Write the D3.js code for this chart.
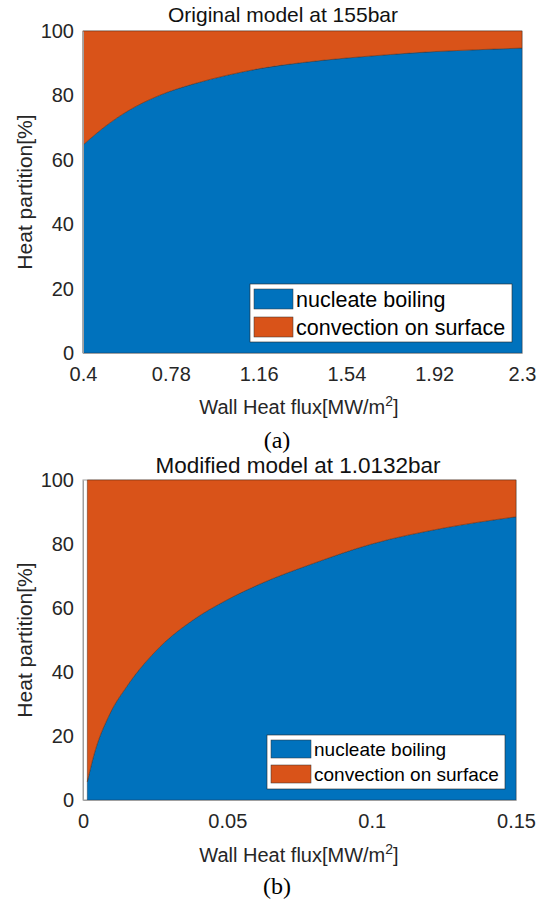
<!DOCTYPE html>
<html><head><meta charset="utf-8">
<script src="https://cdn.jsdelivr.net/npm/d3@7"></script>
<style>body{margin:0;background:#fff}svg{display:block}</style>
</head><body>
<script>
// Panel (a): Original model at 155bar
const fluxA = [0.4, 0.5, 0.59, 0.73, 0.88, 1.02, 1.17, 1.35, 1.54, 1.73, 1.92, 2.11, 2.3];
const boilA = [64.6, 70.6, 75.0, 80.0, 83.6, 86.2, 88.4, 90.2, 91.6, 92.7, 93.6, 94.2, 94.7];
const xTicksA = [0.4, 0.78, 1.16, 1.54, 1.92, 2.3];
// Panel (b): Modified model at 1.0132bar
const fluxB = [0.0015, 0.0036, 0.0094, 0.0151, 0.0267, 0.0382, 0.0498, 0.0613, 0.08, 0.1, 0.125, 0.15];
const boilB = [5.7, 13.5, 27.1, 35.4, 47.9, 56.3, 62.5, 67.5, 74.0, 80.0, 85.0, 88.5];
const xTicksB = [0, 0.05, 0.1, 0.15];
const yTicks = [0, 20, 40, 60, 80, 100];
const seriesNames = ["nucleate boiling", "convection on surface"];
const colors = ["#0072BD", "#D95319"];

const svg = d3.select("body").append("svg").attr("width", 547).attr("height", 902);
const FONT = "Liberation Sans, Arial, sans-serif";
const TXT = "#262626";

function panel(o) {
  const x = d3.scaleLinear().domain(o.xDomain).range([o.l, o.r]);
  const y = d3.scaleLinear().domain([0, 100]).range([o.b, o.t]);
  const g = svg.append("g");
  const data = o.xs.map((v, i) => ({x: v, y: o.ys[i]}));
  g.append("rect").attr("x", o.l).attr("y", o.t).attr("width", o.r - o.l).attr("height", o.b - o.t)
    .attr("fill", "none").attr("stroke", "#a0a0a0").attr("stroke-width", 1);
  const areaBoil = d3.area().x(d => x(d.x)).y0(y(0)).y1(d => y(d.y)).curve(d3.curveMonotoneX);
  const areaConv = d3.area().x(d => x(d.x)).y0(d => y(d.y)).y1(y(100)).curve(d3.curveMonotoneX);
  g.append("path").datum(data).attr("d", areaBoil).attr("fill", colors[0])
    .attr("stroke", "#1a3a5a").attr("stroke-width", 0.5);
  g.append("path").datum(data).attr("d", areaConv).attr("fill", colors[1])
    .attr("stroke", "#5a2a10").attr("stroke-width", 0.5);
  const ya = g.append("g").attr("transform", `translate(${o.l},0)`)
    .call(d3.axisLeft(y).tickValues(yTicks).tickSize(0).tickPadding(9));
  ya.select(".domain").attr("stroke", "#a0a0a0");
  ya.selectAll("text").attr("font-family", FONT).attr("font-size", o.fs).attr("fill", TXT);
  const xa = g.append("g").attr("transform", `translate(0,${o.b})`)
    .call(d3.axisBottom(x).tickValues(o.xTicks).tickSize(0).tickPadding(o.xpad).tickFormat(d => String(d)));
  xa.select(".domain").attr("stroke", "#a0a0a0");
  xa.selectAll("text").attr("font-family", FONT).attr("font-size", o.fs).attr("fill", TXT);
  g.append("text").attr("x", o.titleX).attr("y", o.titleY).attr("text-anchor", "middle")
    .attr("font-family", FONT).attr("font-size", o.tfs).attr("fill", "#111").text(o.title);
  g.append("text").attr("transform", `translate(${o.ylabX},${o.ylabY}) rotate(-90)`)
    .attr("text-anchor", "middle").attr("font-family", FONT).attr("font-size", o.yfs).attr("fill", TXT)
    .text("Heat partition[%]");
  const xl = g.append("text").attr("x", o.xlabX).attr("y", o.xlabY).attr("text-anchor", "middle")
    .attr("font-family", FONT).attr("font-size", o.xfs).attr("fill", TXT);
  xl.append("tspan").text("Wall Heat flux[MW/m");
  xl.append("tspan").attr("dy", -8).attr("font-size", o.xfs * 0.7).text("2");
  xl.append("tspan").attr("dy", 8).text("]");
  g.append("text").attr("x", o.capX).attr("y", o.capY).attr("text-anchor", "middle")
    .attr("font-family", "Liberation Serif, Times New Roman, serif").attr("font-size", 24).attr("fill", "#000").text(o.cap);
  const L = o.leg;
  g.append("rect").attr("x", L.x).attr("y", L.y).attr("width", L.w).attr("height", L.h)
    .attr("fill", "#fff").attr("stroke", "#262626").attr("stroke-width", 0.6);
  seriesNames.forEach((n, i) => {
    const sy = L.y + L.pad + i * L.row;
    g.append("rect").attr("x", L.x + 4).attr("y", sy).attr("width", L.sw).attr("height", L.sh)
      .attr("fill", colors[i]).attr("stroke", "#333").attr("stroke-width", 0.5);
    g.append("text").attr("x", L.x + L.sw + 7).attr("y", sy + L.sh / 2).attr("dy", "0.35em")
      .attr("font-family", FONT).attr("font-size", L.fs).attr("fill", "#000").text(n);
  });
}

panel({
  xDomain: [0.4, 2.3], xs: fluxA, ys: boilA, xTicks: xTicksA,
  l: 83, r: 522, t: 31, b: 353, fs: 20, xpad: 14, tfs: 21, yfs: 21, xfs: 20,
  title: "Original model at 155bar", titleX: 283, titleY: 22,
  ylabX: 32, ylabY: 192, xlabX: 299, xlabY: 414, cap: "(a)", capX: 277, capY: 448,
  leg: {x: 250, y: 284, w: 262, h: 58, pad: 5, row: 28, sw: 39, sh: 20, fs: 21.5}
});
panel({
  xDomain: [0, 0.15], xs: fluxB, ys: boilB, xTicks: xTicksB,
  l: 83, r: 516, t: 480, b: 800, fs: 20, xpad: 14, tfs: 22.5, yfs: 21, xfs: 20,
  title: "Modified model at 1.0132bar", titleX: 298, titleY: 473,
  ylabX: 32, ylabY: 640, xlabX: 299, xlabY: 862, cap: "(b)", capX: 277, capY: 894,
  leg: {x: 267, y: 735, w: 238, h: 54, pad: 5, row: 25, sw: 40, sh: 18, fs: 19}
});
</script>
</body></html>
